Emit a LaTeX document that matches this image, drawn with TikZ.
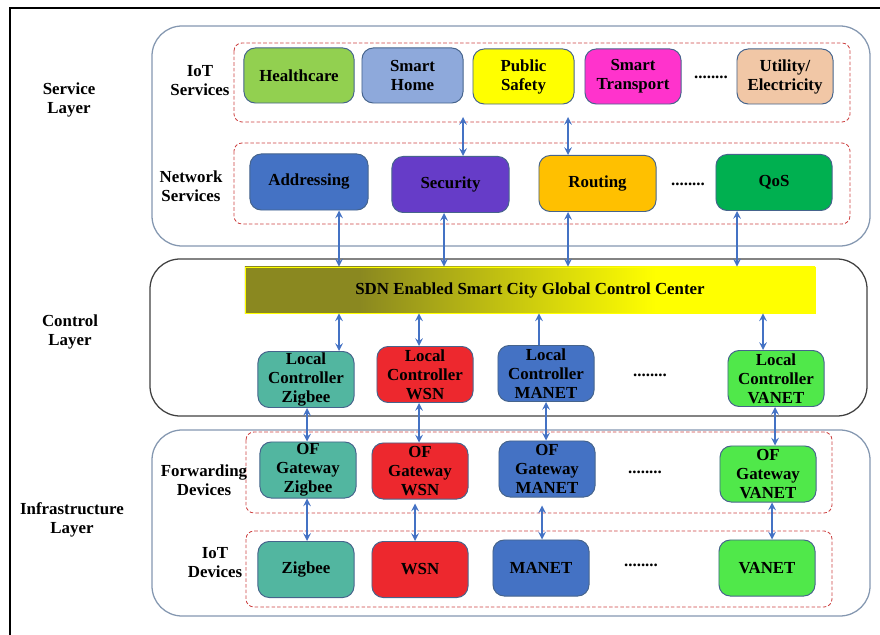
\documentclass[tikz,border=0pt]{standalone}
\usepackage{fontspec}
\setmainfont{Liberation Serif}
\usepackage{tikz}
\usetikzlibrary{arrows,shapes,positioning}
\usepackage{xcolor}
\definecolor{scgreen}{RGB}{146,208,80}
\definecolor{sclightblue}{RGB}{142,169,219}
\definecolor{scyellow}{RGB}{255,255,0}
\definecolor{scmagenta}{RGB}{255,51,204}
\definecolor{scpeach}{RGB}{241,199,166}
\definecolor{scblue}{RGB}{68,114,196}
\definecolor{scpurple}{RGB}{102,60,200}
\definecolor{scorange}{RGB}{255,192,0}
\definecolor{scdarkgreen}{RGB}{0,176,80}
\definecolor{scteal}{RGB}{82,182,160}
\definecolor{scred}{RGB}{237,40,46}
\definecolor{sclime}{RGB}{80,232,74}
\definecolor{scolive}{RGB}{138,136,32}
\definecolor{scborder}{RGB}{70,100,140}
\definecolor{sclayer}{RGB}{132,151,176}
\definecolor{scdash}{RGB}{204,64,64}
\pgfdeclarehorizontalshading{sdnshade}{100bp}{color(0bp)=(scolive); color(35bp)=(scolive); color(61bp)=(scyellow); color(100bp)=(scyellow)}
\tikzstyle{unit} = [rectangle, rounded corners=8pt, draw=scborder, line width=0.7pt, text centered, align=center, font=\bfseries\fontsize{12}{13.5}\selectfont, minimum width=2.4cm, minimum height=1.4cm, inner sep=0pt]
\tikzstyle{layertext} = [align=center, font=\bfseries\fontsize{12}{13.5}\selectfont]
\tikzstyle{dots} = [font=\bfseries\fontsize{12}{13.5}\selectfont]
\tikzstyle{layer} = [rounded corners=0.75cm, line width=0.9pt]
\tikzstyle{group} = [rounded corners=0.2cm, draw=scdash, dash pattern=on 2.5pt off 1.5pt, line width=0.6pt]
\tikzstyle{link} = [line width=1.4pt, <->, >=stealth, color=scblue]

\begin{document}
\begin{tikzpicture}[x=0.025cm, y=-0.025cm]
\useasboundingbox (0,0) rectangle (880,635);
% Frame
\draw[line width=2pt] (10,635) -- (10,8) -- (880,8);

% Layers
\draw[layer, draw=sclayer] (152,26) rectangle (870,246);
\draw[layer, draw=black!75] (150,259) rectangle (867,416);
\draw[layer, draw=sclayer] (152,430) rectangle (870,616);

% Groups
\draw[group] (234,43) rectangle (850,122);
\draw[group] (234,143) rectangle (850,224);
\draw[group] (246,432) rectangle (832,513);
\draw[group] (246,531) rectangle (832,607);

% Layer names
\node (service) [layertext] at (69,100) {Service\\Layer};
\node (control) [layertext] at (70,332) {Control\\Layer};
\node (infra) [layertext] at (72,520) {Infrastructure\\Layer};
\node (iotserv) [layertext] at (200,81) {IoT\\Services};
\node (netserv) [layertext] at (191,186) {Network\\Services};
\node (fwd) [layertext] at (204,480) {Forwarding\\Devices};
\node (iotdev) [layertext] at (215,563) {IoT\\Devices};

% IoT services
\node (health) [unit, fill=scgreen, minimum width=2.75cm, minimum height=1.375cm] at (299,75.5) {Healthcare};
\node (home) [unit, fill=sclightblue, minimum width=2.525cm, minimum height=1.375cm] at (412.5,75.5) {Smart\\Home};
\node (safety) [unit, fill=scyellow, minimum width=2.525cm, minimum height=1.375cm] at (523.5,76.5) {Public\\Safety};
\node (transport) [unit, fill=scmagenta, minimum height=1.375cm] at (633,76.5) {Smart\\Transport};
\node (dotsa) [dots] at (711,77) {........};
\node (util) [unit, fill=scpeach, minimum height=1.375cm] at (785,76.5) {Utility/\\Electricity};

% Network services
\node (addr) [unit, fill=scblue, minimum width=2.95cm] at (309,182) {Addressing};
\node (sec) [unit, fill=scpurple, minimum width=2.925cm] at (450.5,184.5) {Security};
\node (route) [unit, fill=scorange, minimum width=2.925cm] at (597.5,183.5) {Routing};
\node (dotsb) [dots] at (688,184) {........};
\node (qos) [unit, fill=scdarkgreen, minimum width=2.9cm] at (774,182.5) {QoS};

% Global control center
\node (sdn) [rectangle, draw=scyellow, line width=0.6pt, shading=sdnshade, minimum width=14.25cm, minimum height=1.15cm, font=\bfseries\fontsize{12}{13.5}\selectfont] at (530,290) {SDN Enabled Smart City Global Control Center};

% Local controllers
\node (lczig) [unit, fill=scteal] at (306,379.5) {Local\\Controller\\Zigbee};
\node (lcwsn) [unit, fill=scred] at (425,374.5) {Local\\Controller\\WSN};
\node (lcman) [unit, fill=scblue] at (546,373.5) {Local\\Controller\\MANET};
\node (dotsc) [dots] at (650,375) {........};
\node (lcvan) [unit, fill=sclime] at (776,378.5) {Local\\Controller\\VANET};

% Forwarding devices
\node (gwzig) [unit, fill=scteal] at (308,470) {OF\\Gateway\\Zigbee};
\node (gwwsn) [unit, fill=scred] at (420,471) {OF\\Gateway\\WSN};
\node (gwman) [unit, fill=scblue] at (547,469) {OF\\Gateway\\MANET};
\node (dotsd) [dots] at (645,472) {........};
\node (gwvan) [unit, fill=sclime] at (768,474) {OF\\Gateway\\VANET};

% IoT devices
\node (devzig) [unit, fill=scteal] at (306,569.5) {Zigbee};
\node (devwsn) [unit, fill=scred] at (420,569.5) {WSN};
\node (devman) [unit, fill=scblue] at (541,568) {MANET};
\node (dotse) [dots] at (641,565) {........};
\node (devvan) [unit, fill=sclime] at (767,568) {VANET};

% Arrows
\coordinate (sa) at (463,117);
\coordinate (sb) at (568,117);
\draw[link] (sa) -- (sa |- sec.north);
\draw[link] (sb) -- (sb |- route.north);
\draw[link] (addr.south -| 339,0) -- (sdn.north -| 339,0);
\draw[link] (sec.south -| 444,0) -- (sdn.north -| 444,0);
\draw[link] (route.south -| 568,0) -- (sdn.north -| 568,0);
\draw[link] (qos.south -| 737,0) -- (sdn.north -| 737,0);
\draw[link] (sdn.south -| 339,0) -- (lczig.north -| 339,0);
\draw[link] (sdn.south -| 419,0) -- (lcwsn.north -| 419,0);
\draw[link, ->] (lcman.north -| 539,0) -- (sdn.south -| 539,0);
\draw[link] (sdn.south -| 763,0) -- (lcvan.north -| 763,0);
\draw[link] (lczig.south -| 307,0) -- (gwzig.north -| 307,0);
\draw[link] (lcwsn.south -| 419,0) -- (gwwsn.north -| 419,0);
\draw[link] (lcman.south -| 546,0) -- (gwman.north -| 546,0);
\draw[link] (lcvan.south -| 775,0) -- (gwvan.north -| 775,0);
\draw[link] (gwzig.south -| 307,0) -- (devzig.north -| 307,0);
\draw[link] ([yshift=-0.1cm]gwwsn.south -| 415,0) -- (devwsn.north -| 415,0);
\draw[link] ([yshift=-0.2cm]gwman.south -| 542,0) -- (devman.north -| 542,0);
\draw[link] (gwvan.south -| 772,0) -- (devvan.north -| 772,0);
\end{tikzpicture}
\end{document}
